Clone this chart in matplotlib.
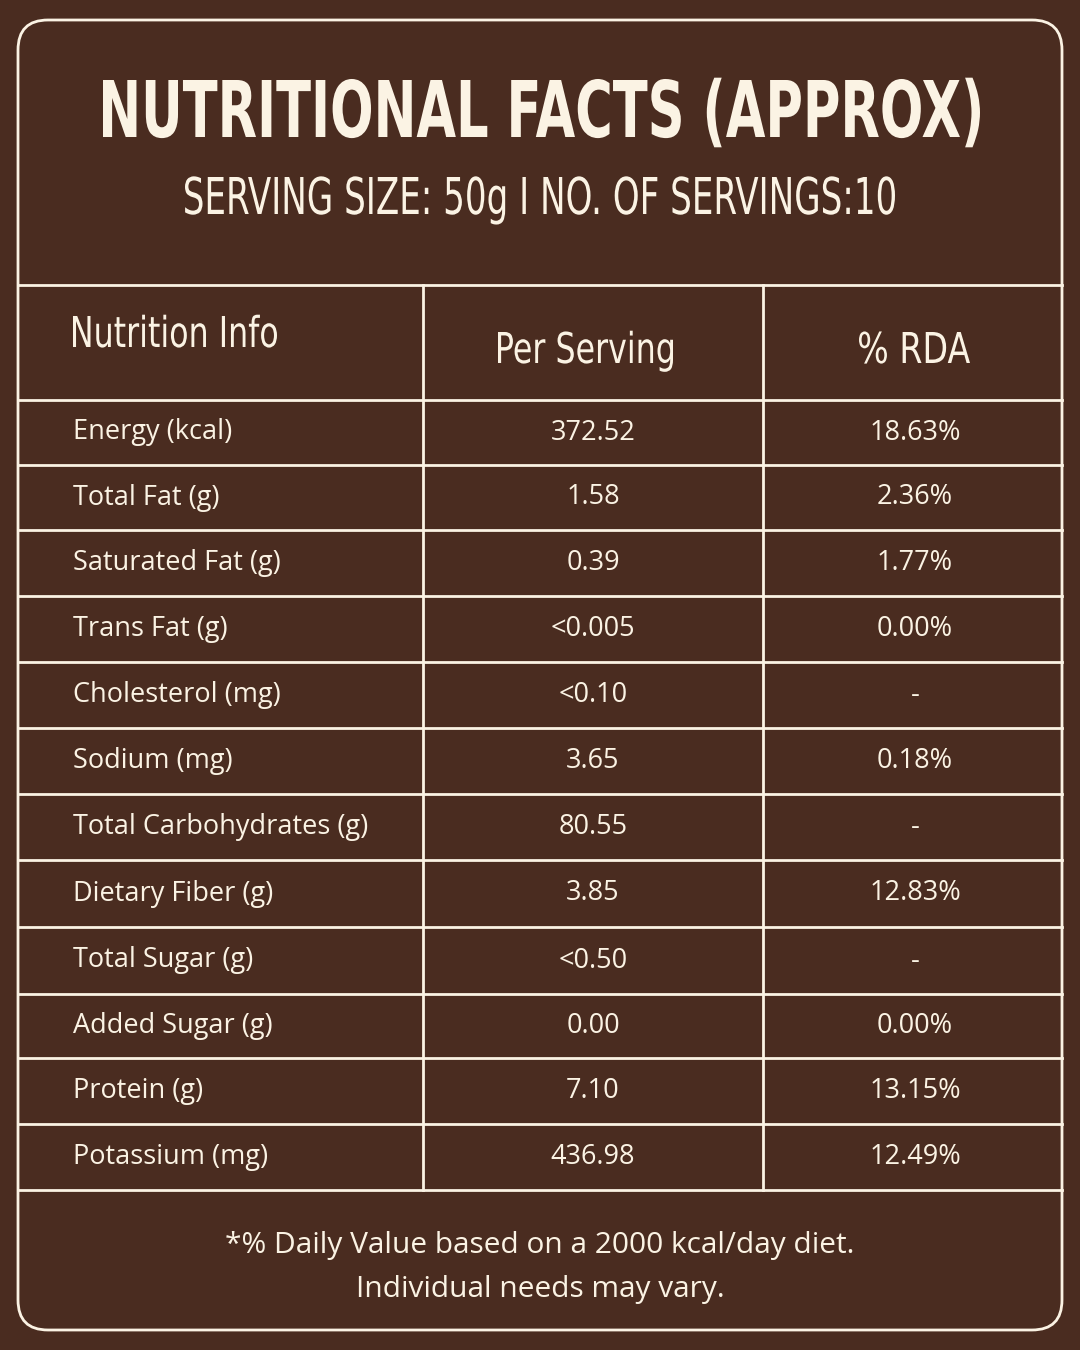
import matplotlib.pyplot as plt
from matplotlib.patches import FancyBboxPatch, PathPatch
from matplotlib.textpath import TextPath
from matplotlib.font_manager import FontProperties
from matplotlib.transforms import Affine2D

BG = '#4a2c20'
FG = '#fbf3e4'

nutrients = ['Energy (kcal)', 'Total Fat (g)', 'Saturated Fat (g)', 'Trans Fat (g)',
             'Cholesterol (mg)', 'Sodium (mg)', 'Total Carbohydrates (g)',
             'Dietary Fiber (g)', 'Total Sugar (g)', 'Added Sugar (g)',
             'Protein (g)', 'Potassium (mg)']
per_serving = ['372.52', '1.58', '0.39', '<0.005', '<0.10', '3.65', '80.55',
               '3.85', '<0.50', '0.00', '7.10', '436.98']
rda = ['18.63%', '2.36%', '1.77%', '0.00%', '-', '0.18%', '-',
       '12.83%', '-', '0.00%', '13.15%', '12.49%']
row_lines = [400, 465, 530, 596, 662, 728, 794, 860, 927, 994, 1058, 1124, 1190]

fig = plt.figure(figsize=(10.8, 13.5), dpi=100, facecolor=BG)
ax = fig.add_axes([0, 0, 1, 1])
ax.set_xlim(0, 1080)
ax.set_ylim(1350, 0)
ax.axis('off')


def narrow_text(x0, x1, ycap_top, ycap_bot, s, weight='normal'):
    """Draw text squeezed into a box: x0..x1 wide, cap height between ycap_top/bot."""
    fp = FontProperties(family='DejaVu Sans', weight=weight)
    tp = TextPath((0, 0), s, size=100, prop=fp)
    cap = TextPath((0, 0), 'H', size=100, prop=fp).get_extents()
    ext = tp.get_extents()
    sx = (x1 - x0) / ext.width
    sy = (ycap_bot - ycap_top) / cap.height
    tr = Affine2D().translate(-ext.x0, 0).scale(sx, -sy).translate(x0, ycap_bot)
    ax.add_patch(PathPatch(tr.transform_path(tp), fc=FG, ec='none'))


box = FancyBboxPatch((18, 20), 1044, 1310, boxstyle='round,pad=0,rounding_size=30',
                     fill=False, ec=FG, lw=2)
ax.add_patch(box)

narrow_text(103, 980, 80, 137, 'NUTRITIONAL FACTS (APPROX)', weight='bold')
narrow_text(185, 895, 177, 214, 'SERVING SIZE: 50g I NO. OF SERVINGS:10')

ax.plot([18, 1062], [285, 285], color=FG, lw=2)
for y in row_lines:
    ax.plot([18, 1062], [y, y], color=FG, lw=2)
for x in (423, 763):
    ax.plot([x, x], [285, 1190], color=FG, lw=2)

narrow_text(73, 277, 316, 347, 'Nutrition Info')
narrow_text(498, 673, 332, 363, 'Per Serving')
narrow_text(859, 970, 332, 363, '% RDA')

for i, (n, p, r) in enumerate(zip(nutrients, per_serving, rda)):
    yc = (row_lines[i] + row_lines[i + 1]) / 2
    ax.text(73, yc, n, fontsize=19.5, family='Open Sans', color=FG, ha='left', va='center')
    ax.text(593, yc, p, fontsize=19.5, family='Open Sans', color=FG, ha='center', va='center')
    ax.text(915, yc, r, fontsize=19.5, family='Open Sans', color=FG, ha='center', va='center')

ax.text(540, 1246, '*% Daily Value based on a 2000 kcal/day diet.', fontsize=21.5,
        family='Open Sans', color=FG, ha='center', va='center')
ax.text(540, 1290, 'Individual needs may vary.', fontsize=21.5,
        family='Open Sans', color=FG, ha='center', va='center')

fig.savefig('out.png', dpi=100, facecolor=BG)
